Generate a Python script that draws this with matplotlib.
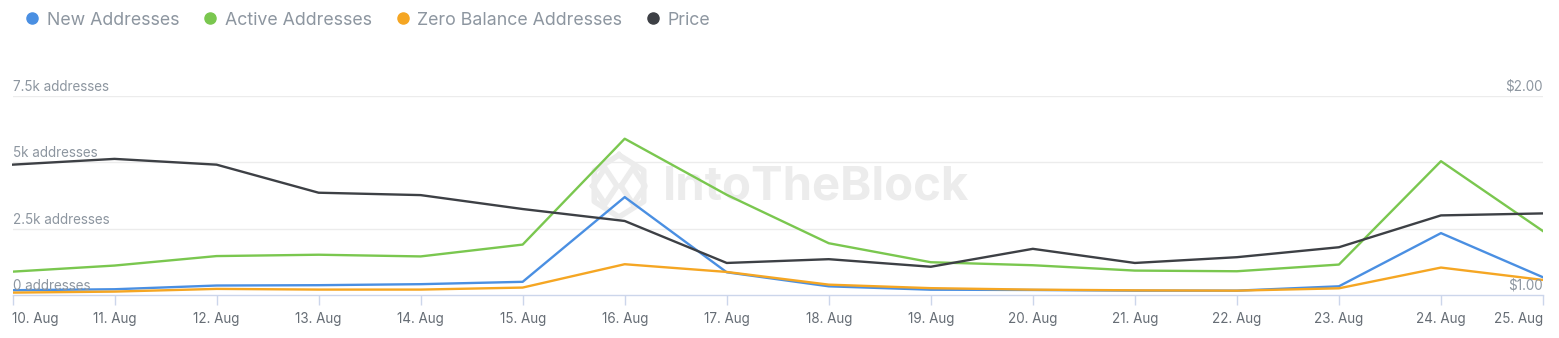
import numpy as np
import matplotlib as mpl
import matplotlib.pyplot as plt
from matplotlib.lines import Line2D

mpl.rcParams.update({"font.family": ["Inter", "DejaVu Sans"], "font.size": 10})

# values (daily, 10-25 Aug)
DATES = ["10. Aug", "11. Aug", "12. Aug", "13. Aug", "14. Aug", "15. Aug", "16. Aug", "17. Aug",
         "18. Aug", "19. Aug", "20. Aug", "21. Aug", "22. Aug", "23. Aug", "24. Aug", "25. Aug"]
NEW = [180, 217, 357, 370, 408, 497, 3690, 856, 327, 200, 189, 164, 164, 328, 2332, 668]
ACTIVE = [880, 1110, 1467, 1518, 1454, 1900, 5890, 3776, 1951, 1235, 1122, 920, 895, 1147, 5043, 2408]
ZERO = [90, 128, 230, 204, 204, 280, 1160, 869, 390, 258, 202, 176, 164, 252, 1034, 567]
PRICE = [1.655, 1.684, 1.655, 1.514, 1.502, 1.432, 1.372, 1.161, 1.180, 1.142, 1.232, 1.161,
         1.190, 1.240, 1.400, 1.410]

ADDR_TICKS = [0, 2500, 5000, 7500]
ADDR_LABELS = ["0 addresses", "2.5k addresses", "5k addresses", "7.5k addresses"]
PRICE_TICKS = [1.0, 2.0]
PRICE_LABELS = ["$1.00", "$2.00"]

COLOR = {"New Addresses": "#4a8fe2", "Active Addresses": "#7ac74f",
         "Zero Balance Addresses": "#f5a623", "Price": "#3d4045"}
TXT = "#8d96a0"; AXC = "#ccd6eb"; GRID = "#ececec"; WM = "#ececec"

W, H = 1559, 338
fig = plt.figure(figsize=(W / 100, H / 100), dpi=100)

# watermark (logo + wordmark) behind the plot
cx, cy, r = 619, 186, 31
ang = np.deg2rad(np.arange(90, 451, 60))
fig.add_artist(Line2D((cx + r * 0.92 * np.cos(ang)) / W, (H - cy + r * np.sin(ang)) / H,
                      color=WM, lw=4, transform=fig.transFigure, zorder=-2))
for dx in (-14, 14):
    fig.add_artist(Line2D([(cx + dx - 12) / W, (cx + dx) / W, (cx + dx + 12) / W, (cx + dx) / W, (cx + dx - 12) / W],
                          [(H - cy) / H, (H - cy + 18) / H, (H - cy) / H, (H - cy - 18) / H, (H - cy) / H],
                          color=WM, lw=4, transform=fig.transFigure, zorder=-2))
fig.text(816 / W, 1 - 187 / H, "IntoTheBlock", fontsize=34, fontweight="bold", color=WM,
         ha="center", va="center", zorder=-2)

ax = fig.add_axes([12.5 / W, 1 - 295 / H, (1543 - 12.5) / W, (295 - 96) / H])
ax.patch.set_visible(False)
x = np.arange(len(DATES))
lw = 1.7

ax.plot(x, NEW, color=COLOR["New Addresses"], lw=lw, zorder=3)
ax.plot(x, ACTIVE, color=COLOR["Active Addresses"], lw=lw, zorder=3)
ax.plot(x, ZERO, color=COLOR["Zero Balance Addresses"], lw=lw, zorder=4)
ax.set_xlim(0, len(DATES) - 1)
ax.set_ylim(0, 7500)

ax2 = ax.twinx()
ax2.plot(x, PRICE, color=COLOR["Price"], lw=lw, zorder=5)
ax2.set_ylim(1.0, 2.0)

for a in (ax, ax2):
    for s in ("top", "right", "left"):
        a.spines[s].set_visible(False)
    a.set_yticks([])
ax2.spines["bottom"].set_visible(False)
ax.spines["bottom"].set_color(AXC)
ax.spines["bottom"].set_linewidth(1.0)

for t in ADDR_TICKS[1:]:
    ax.axhline(t, color=GRID, lw=1.0, zorder=0)

# y labels sit inside the plot, above their grid lines
for t, lab in zip(ADDR_TICKS, ADDR_LABELS):
    ax.annotate(lab, (0, t), xycoords=("axes fraction", "data"), xytext=(0.5, 1.5),
                textcoords="offset points", ha="left", va="bottom", color=TXT, fontsize=9.7, zorder=6)
for t, lab in zip(PRICE_TICKS, PRICE_LABELS):
    ax2.annotate(lab, (1, t), xycoords=("axes fraction", "data"), xytext=(0, 1.5),
                 textcoords="offset points", ha="right", va="bottom", color=TXT, fontsize=9.7)

ax.set_xticks(x)
ax.set_xticklabels(DATES)
ax.tick_params(axis="x", length=7, width=1, color=AXC, labelcolor="#666d75", labelsize=9.7, pad=5)
labs = ax.get_xticklabels()
labs[0].set_ha("left"); labs[-1].set_ha("right")

handles = [Line2D([], [], marker="o", ls="", ms=8, color=c) for c in COLOR.values()]
fig.legend(handles, list(COLOR.keys()), loc="upper left", bbox_to_anchor=(12 / W, 1.0),
           ncol=4, frameon=False, fontsize=12.8, labelcolor=TXT, handletextpad=0.3,
           columnspacing=1.25, handlelength=1.0, borderaxespad=0.25)

fig.savefig("out.png", dpi=100)
